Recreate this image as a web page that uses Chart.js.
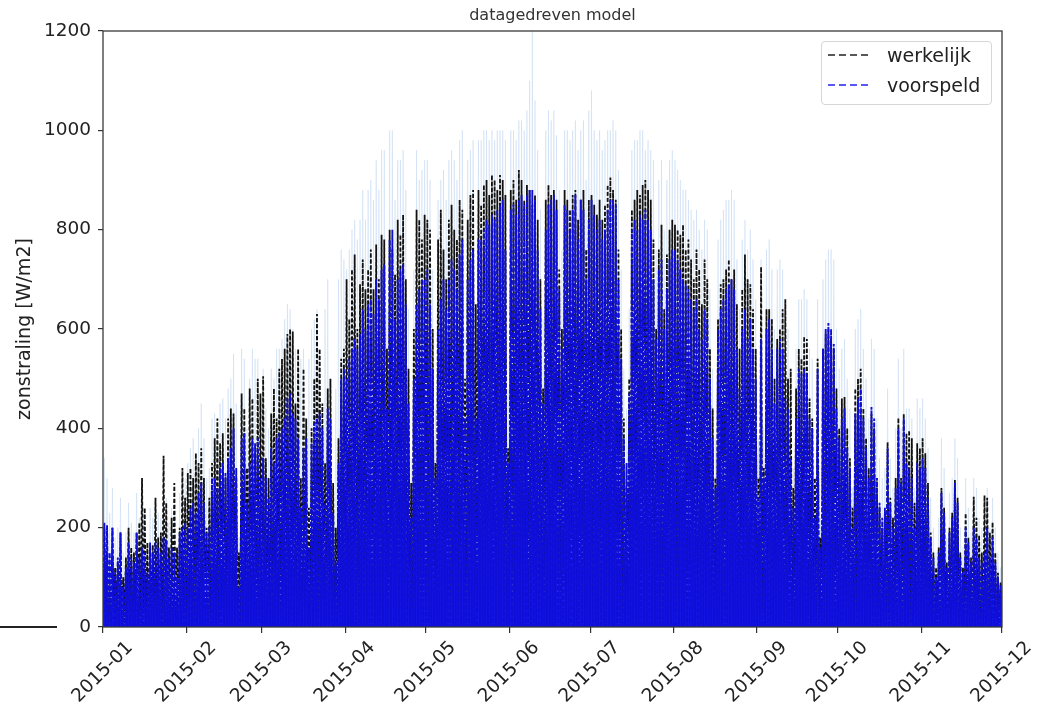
<!DOCTYPE html>
<html><head><meta charset="utf-8">
<script src="https://cdn.jsdelivr.net/npm/chart.js@4"></script>
<style>
html,body{margin:0;padding:0;background:#fff;}
#wrap{position:relative;width:1045px;height:711px;}
canvas{display:block;}
#legend{position:absolute;left:821px;top:41px;width:171px;height:64px;border:1px solid #d6d6d6;border-radius:4px;background:rgba(255,255,255,0.85);box-sizing:border-box;font-family:'DejaVu Sans';font-size:19px;color:#222;}
.lrow{position:absolute;left:6px;height:24px;width:160px;}
.lrow svg{position:absolute;left:0;top:10px;}
.lrow span{position:absolute;left:59px;top:0;line-height:24px;white-space:nowrap;}
#stray{position:absolute;left:0;top:626px;width:57px;height:2px;background:#222;}
</style>
</head><body>
<div id="wrap">
<canvas id="c" width="1045" height="711"></canvas>
<div id="legend">
 <div class="lrow" style="top:1px"><svg width="44" height="4"><line x1="0" y1="2" x2="42" y2="2" stroke="#222" stroke-width="1.6" stroke-dasharray="7,4"/></svg><span>werkelijk</span></div>
 <div class="lrow" style="top:31px"><svg width="44" height="4"><line x1="0" y1="2" x2="42" y2="2" stroke="#2222ee" stroke-width="1.6" stroke-dasharray="7,4"/></svg><span>voorspeld</span></div>
</div>
<div id="stray"></div>
</div>
<script>
// month start day offsets (days since 2015-01-01) and tick labels
const monthStarts = [0,31,59,90,120,151,181,212,243,273,304,334];
const tickLabels = ['2015-01','2015-02','2015-03','2015-04','2015-05','2015-06','2015-07','2015-08','2015-09','2015-10','2015-11','2015-12'];
const yTicks = [0,200,400,600,800,1000,1200];

// daily peak irradiance, measured (werkelijk), per month
const werkelijk = [
 [200,150,90,200,120,130,190,100,140,200,160,150,190,210,300,240,170,160,165,260,180,190,345,250,160,220,290,160,200,320,260],
 [310,320,300,350,330,360,300,200,260,330,380,420,370,390,300,420,440,430,300,150,470,440,320,480,460,350,500,470],
 [505,340,300,430,480,420,520,540,560,590,600,595,450,560,300,520,420,240,400,500,630,560,450,330,480,500,290,200,380,540,560],
 [700,620,720,750,600,690,740,680,720,760,680,770,700,790,780,560,800,760,710,820,790,830,700,520,290,600,840,820,780,830],
 [820,800,600,330,780,840,760,700,820,850,800,780,860,840,500,820,870,880,650,880,850,890,900,870,910,900,880,910,900,870,360],
 [880,900,860,920,900,860,890,880,850,870,820,700,480,860,890,870,880,860,720,600,880,860,840,870,880,820,860,880,760,860],
 [870,850,830,860,820,850,890,905,880,860,760,600,420,280,500,840,860,880,870,890,900,880,860,780,600,760,810,640,750,800,820],
 [810,800,790,810,760,780,740,700,760,720,650,740,700,560,440,300,620,690,700,720,740,700,720,650,560,680,750,700,690,640,560],
 [300,725,320,640,640,620,500,580,600,640,660,500,520,280,480,560,540,585,580,460,420,300,540,180,560,590,600,580,560,480],
 [400,460,463,400,340,240,480,500,520,440,380,320,430,400,300,240,200,230,372,260,220,300,421,300,430,390,396,380,250,370,360],
 [380,350,290,190,150,120,160,280,240,130,200,230,296,260,150,120,229,180,140,262,220,185,150,265,260,190,211,150,109,90]
];

// daily peak irradiance, predicted (voorspeld), per month
const voorspeld = [
 [210,205,150,200,110,140,190,80,120,170,140,130,190,140,160,150,110,170,150,170,160,150,180,175,140,160,150,100,190,200,210],
 [200,240,250,230,270,290,250,190,200,300,300,280,320,330,310,340,360,400,320,80,380,390,250,330,380,370,380,300],
 [340,300,260,360,330,380,390,400,420,460,470,430,420,380,240,360,380,160,370,410,420,430,400,250,440,420,230,130,330,500,520],
 [500,540,560,580,560,590,640,600,650,660,630,700,660,720,730,440,780,800,620,700,720,730,650,450,220,500,650,680,700,700],
 [720,650,520,300,600,660,700,640,700,740,720,680,750,780,420,700,740,760,420,780,780,800,820,810,830,820,840,850,860,760,330],
 [840,850,830,860,870,850,870,880,880,860,760,640,450,800,850,860,870,840,680,560,850,840,800,840,870,780,860,840,700,820],
 [860,830,800,820,780,800,840,860,860,850,700,540,380,330,470,800,820,800,830,820,840,820,800,700,580,720,740,600,680,740,760],
 [760,740,720,700,690,680,660,640,660,600,580,640,620,500,380,280,600,640,660,680,690,700,680,560,480,600,640,580,620,560,500],
 [260,580,300,600,620,560,450,560,580,560,460,440,340,240,420,520,510,520,510,420,400,220,520,160,560,600,612,600,570,440],
 [380,420,440,360,320,200,430,460,480,420,360,300,443,420,300,250,220,240,360,250,200,280,400,290,420,330,320,300,200,330,320],
 [340,320,260,180,140,100,150,270,230,120,190,220,290,250,140,110,200,170,130,200,180,140,130,150,200,140,180,130,100,85]
];

// upper edge of the light-blue uncertainty band, per month
const bovengrens = [
 [340,300,230,280,180,200,260,150,190,250,210,190,270,220,260,230,170,240,220,260,230,220,280,260,210,240,230,160,270,300,300],
 [330,360,380,340,400,450,380,300,320,420,430,400,450,460,420,480,500,550,450,180,560,540,400,500,560,540,540,450],
 [520,440,400,520,500,560,560,580,620,650,640,600,560,360,540,560,260,540,600,620,640,560,380,640,700,340,220,480,700,760,740],
 [720,760,800,820,780,820,880,820,880,900,860,940,880,960,960,640,1000,1000,860,940,940,960,880,640,340,720,960,900,920,940],
 [940,900,720,440,860,900,920,860,940,960,940,900,980,1000,600,940,960,980,620,980,980,1000,1000,980,1000,980,1000,1000,1000,980,480],
 [1000,1000,980,1020,1020,1000,1040,1100,1200,1060,960,840,620,1000,1040,1020,1040,990,880,760,1000,1000,980,1000,1020,960,1000,1020,900,1040],
 [1080,1000,980,1000,960,980,1000,1000,1020,1000,920,720,520,440,640,960,980,980,1000,1000,960,980,960,940,760,900,940,800,900,940,960],
 [940,920,900,880,880,860,840,820,840,800,760,820,800,680,520,380,780,820,840,860,860,880,860,740,640,780,820,760,800,740,660],
 [380,740,400,760,780,720,600,720,740,720,620,600,460,320,560,660,660,680,660,560,540,300,660,220,700,740,760,760,740,600],
 [520,560,580,500,440,280,600,620,640,560,500,420,580,560,420,340,300,320,480,340,280,400,540,400,560,440,440,420,280,460,440],
 [460,420,360,260,200,150,220,380,320,180,270,300,380,340,200,160,300,240,190,300,280,220,200,260,280,200,260,200,150,120]
];

// each day: dark at the day boundary, peak at midday
function buildSeries(monthly) {
  const pts = [];
  monthly.forEach((arr, m) => {
    const len = monthStarts[m + 1] - monthStarts[m];
    arr.slice(0, len).forEach((v, i) => {
      const d = monthStarts[m] + i;
      pts.push({x: d, y: 0}, {x: d + 0.5, y: v});
    });
  });
  pts.push({x: monthStarts[monthStarts.length - 1], y: 0});
  return pts;
}

const FONT = 'DejaVu Sans';

const framePlugin = {
  id: 'frame',
  afterDatasetsDraw(chart) {
    const {ctx, chartArea: a} = chart;
    ctx.save();
    ctx.strokeStyle = '#3a3a3a';
    ctx.lineWidth = 1.3;
    ctx.strokeRect(a.left, a.top, a.right - a.left, a.bottom - a.top);
    ctx.restore();
  }
};

new Chart(document.getElementById('c'), {
  type: 'line',
  data: {
    datasets: [
      {label: 'voorspeld', data: buildSeries(voorspeld), borderColor: 'rgb(14,14,215)', backgroundColor: 'rgb(22,22,232)',
       fill: 'origin', borderWidth: 1.9, borderDash: [5, 1.5], pointRadius: 0, tension: 0, order: 1},
      {label: 'werkelijk', data: buildSeries(werkelijk), borderColor: '#111', backgroundColor: 'rgba(0,0,0,0)',
       fill: false, borderWidth: 1.8, borderDash: [4, 2], pointRadius: 0, tension: 0, order: 2},
      {label: 'band', data: buildSeries(bovengrens), borderColor: 'rgba(170,200,235,0.3)', backgroundColor: 'rgba(195,218,242,0.22)',
       fill: 'origin', borderWidth: 1, pointRadius: 0, tension: 0, order: 3}
    ]
  },
  options: {
    responsive: false,
    animation: false,
    layout: {padding: {left: 0, right: 43, top: 0, bottom: 0}},
    plugins: {
      legend: {display: false},
      tooltip: {enabled: false},
      title: {display: true, text: 'datagedreven model', fullSize: false, color: '#333',
              font: {family: FONT, size: 16, weight: 'normal'}, padding: {top: 6, bottom: 5.8}}
    },
    scales: {
      x: {
        type: 'linear', min: 0, max: 334,
        afterBuildTicks: s => { s.ticks = monthStarts.map(v => ({value: v})); },
        afterFit: s => { s.height = 84; },
        ticks: {autoSkip: false, minRotation: 45, maxRotation: 45, labelOffset: 27, padding: 4,
                color: '#222', font: {family: FONT, size: 18.5},
                callback: (v, i) => tickLabels[i]},
        grid: {display: true, drawOnChartArea: false, tickLength: 6, color: '#333', lineWidth: 1.2},
        border: {display: false}
      },
      y: {
        min: 0, max: 1200,
        afterBuildTicks: s => { s.ticks = yTicks.map(v => ({value: v})); },
        afterFit: s => { s.width = 103; },
        ticks: {color: '#222', font: {family: FONT, size: 18.5}, padding: 7, callback: v => String(v)},
        grid: {display: true, drawOnChartArea: false, tickLength: 5, color: '#333', lineWidth: 1.2},
        border: {display: false},
        title: {display: true, text: 'zonstraling [W/m2]', color: '#222', font: {family: FONT, size: 19},
                padding: {top: 14, bottom: 0}}
      }
    }
  },
  plugins: [framePlugin]
});
</script>
</body></html>
